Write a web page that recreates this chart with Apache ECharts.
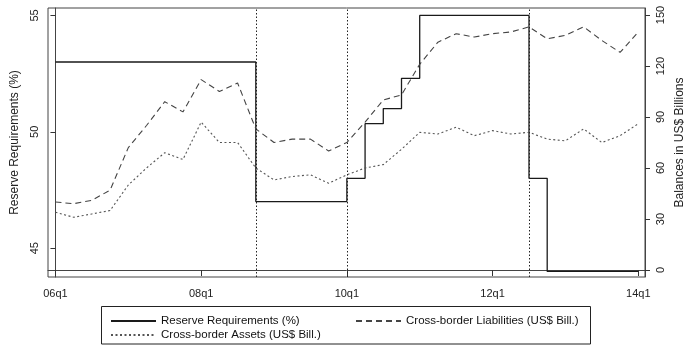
<!DOCTYPE html>
<html>
<head>
<meta charset="utf-8">
<script src="https://cdn.jsdelivr.net/npm/echarts@6/dist/echarts.min.js"></script>
<style>html,body{margin:0;padding:0;background:#fff}#c{width:688px;height:351px}</style>
</head>
<body>
<div id="c"></div>
<script>
const quarters = ['06q1','06q2','06q3','06q4','07q1','07q2','07q3','07q4','08q1','08q2','08q3','08q4','09q1','09q2','09q3','09q4','10q1','10q2','10q3','10q4','11q1','11q2','11q3','11q4','12q1','12q2','12q3','12q4','13q1','13q2','13q3','13q4','14q1'];
const reserve = [53,53,53,53, 53,53,53,53, 53,53,53,47, 47,47,47,47, 48,50.35,51,52.3, 55,55,55,55, 55,55,48,44, 44,44,44,44, 44];
const liabilities = [40,39,41,47, 72,85,99,93, 112,105,110,83, 75,77,77,70, 75,87,100,103, 121,134,139,137, 139,140,143,136, 138,143,135,128, 140];
const assets = [34,31,33,35, 50,60,69,65, 87,75,75,60, 53,55,56,51, 56,60,62,71, 81,80,84,79, 82,80,81,77, 76,83,75,79, 86];
const xTickIdx = [0,8,16,24,32];
const leftTicks = [45,50,55];
const rightTicks = [0,30,60,90,120,150];
const refLines = ['08q4','10q1','12q3'];

const names = ['Reserve Requirements (%)','Cross-border Liabilities (US$ Bill.)','Cross-border Assets (US$ Bill.)'];
const pairs = arr => arr.map((v,i)=>[i,v]);
const font = 'Liberation Sans, Arial, sans-serif';
const axisCol = '#333';

const chart = echarts.init(document.getElementById('c'), null, {renderer:'canvas'});
const legendCommon = {orient:'vertical',top:310,itemGap:2,itemWidth:45,itemHeight:14,
  itemStyle:{opacity:0},selectedMode:false,
  textStyle:{fontSize:11.5,color:'#111',fontFamily:font}};
chart.setOption({
  animation:false,
  backgroundColor:'#fff',
  textStyle:{fontFamily:font},
  grid:{left:48,right:43,top:8,bottom:74,outerBoundsMode:'none',containLabel:false,
    show:true,borderColor:'#444',borderWidth:1,backgroundColor:'transparent'},
  xAxis:{type:'value',min:-0.41,max:32.37,
    axisLine:{show:true,lineStyle:{color:'#444'}},
    splitLine:{show:false},
    axisTick:{show:true,length:6,customValues:xTickIdx,lineStyle:{color:axisCol}},
    axisLabel:{customValues:xTickIdx,formatter:v=>quarters[Math.round(v)],color:'#222',fontSize:11,margin:11,fontFamily:font}
  },
  yAxis:[
    {type:'value',position:'left',min:43.76,max:55.32,
      name:'Reserve Requirements (%)',nameLocation:'middle',nameRotate:90,nameGap:27,
      nameTextStyle:{color:'#222',fontSize:12,fontFamily:font},
      axisLine:{show:true,lineStyle:{color:'#444'}},splitLine:{show:false},
      axisTick:{show:true,length:5,customValues:leftTicks,lineStyle:{color:axisCol}},
      axisLabel:{customValues:leftTicks,rotate:90,color:'#222',fontSize:11,margin:8,fontFamily:font}
    },
    {type:'value',position:'right',min:-4.1,max:154.1,
      name:'Balances in US$ Billions',nameLocation:'middle',nameRotate:90,nameGap:26,
      nameTextStyle:{color:'#222',fontSize:12,fontFamily:font},
      axisLine:{show:true,lineStyle:{color:'#444'}},splitLine:{show:false},
      axisTick:{show:true,length:5,customValues:rightTicks,lineStyle:{color:axisCol}},
      axisLabel:{customValues:rightTicks,rotate:90,color:'#222',fontSize:11,margin:10,fontFamily:font}
    }
  ],
  legend:[
    Object.assign({data:[names[0],names[2]],left:105},legendCommon),
    Object.assign({data:[names[1]],left:350},legendCommon)
  ],
  graphic:[{type:'rect',shape:{x:101.5,y:306.5,width:489,height:37.5},style:{fill:'none',stroke:'#222',lineWidth:1},silent:true}],
  series:[
    {name:names[0],type:'line',yAxisIndex:0,data:pairs(reserve),step:'end',symbol:'none',
      lineStyle:{color:'#1a1a1a',width:1.3,type:'solid'},itemStyle:{color:'#1a1a1a'},
      markLine:{silent:true,symbol:'none',label:{show:false},
        lineStyle:{color:'#222',type:[1.5,2],width:1},
        data:refLines.map(q=>({xAxis:quarters.indexOf(q)}))}
    },
    {name:names[1],type:'line',yAxisIndex:1,data:pairs(liabilities),symbol:'none',
      lineStyle:{color:'#444',width:1.1,type:[6,4]},itemStyle:{color:'#444'}},
    {name:names[2],type:'line',yAxisIndex:1,data:pairs(assets),symbol:'none',
      lineStyle:{color:'#555',width:1.1,type:[2,2.5]},itemStyle:{color:'#555'}}
  ]
});
</script>
</body>
</html>
